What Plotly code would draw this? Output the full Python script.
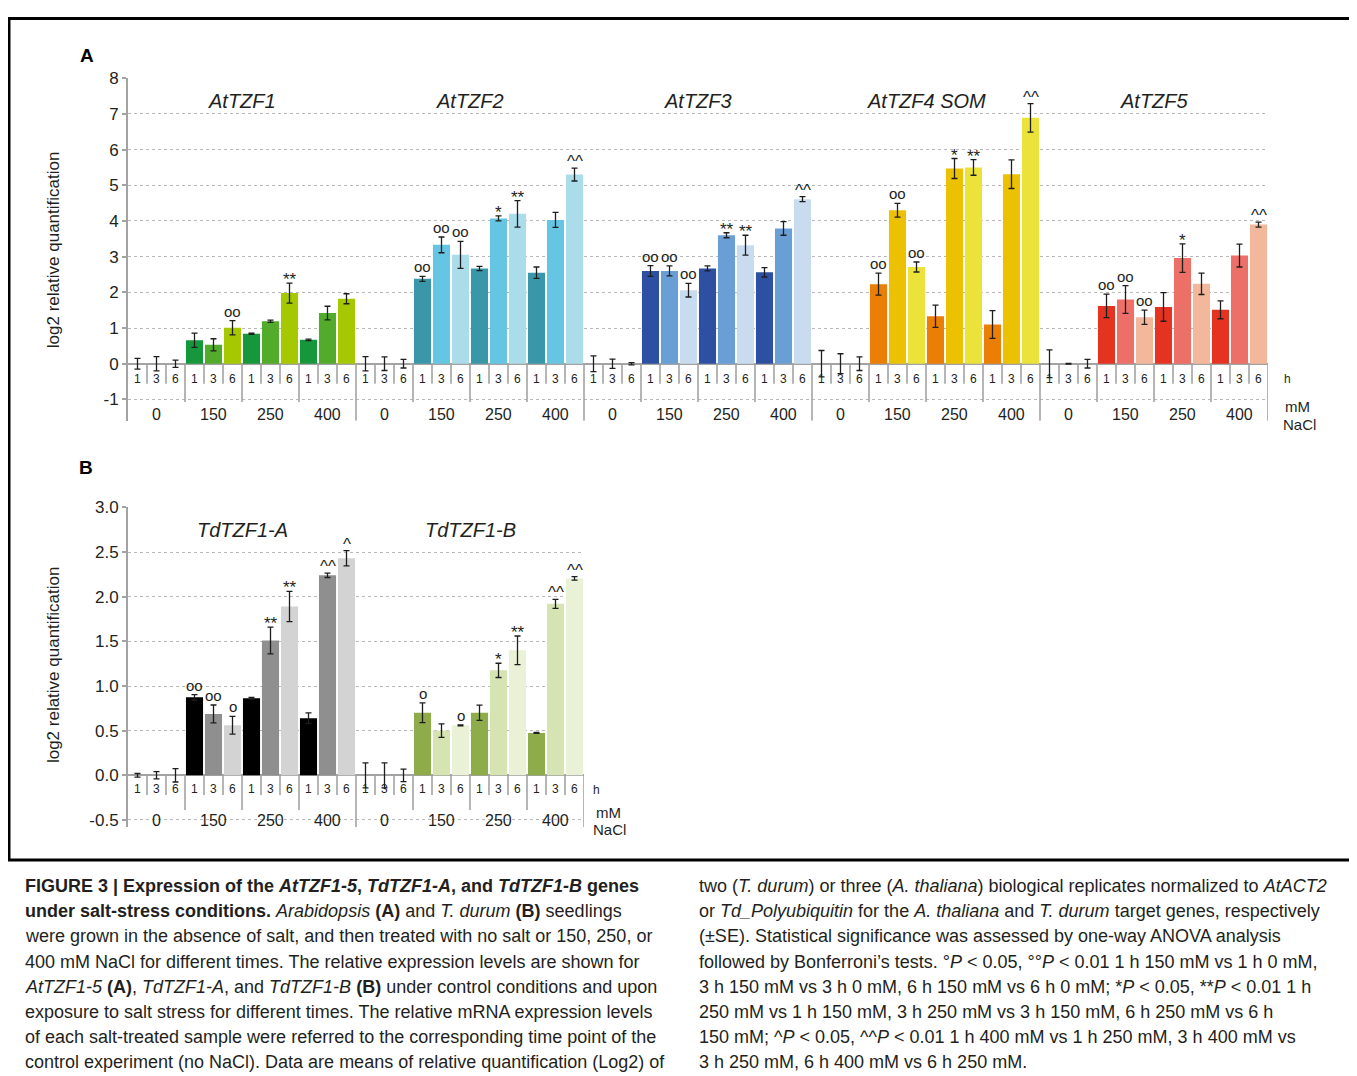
import plotly.graph_objects as go

W, H = 1357, 1076
# screen placement of the figure inside the page (measured): x_screen = x + 8,
# y_screen = 16.8 + 0.989 * y  -> invert so that targets land where wanted
X_OFF = 8.0
Y_OFF, Y_SCALE = 16.8, 0.989


def px(x):
    return (x - X_OFF) / W


def py(y):
    d = (y - Y_OFF) / Y_SCALE
    return 1 - d / H


# ---------------- data ----------------
times = ["1", "3", "6"]
concs = ["0", "150", "250", "400"]

genes_A = ["AtTZF1", "AtTZF2", "AtTZF3", "AtTZF4 SOM", "AtTZF5"]
genes_B = ["TdTZF1-A", "TdTZF1-B"]

# values ordered: 0 mM (1,3,6 h), 150 mM (1,3,6 h), 250 mM (...), 400 mM (...)
AtTZF1_val = [0, 0, 0, 0.66, 0.53, 1.01, 0.84, 1.19, 1.98, 0.67, 1.42, 1.82]
AtTZF1_err = [0.15, 0.2, 0.1, 0.2, 0.17, 0.2, 0.02, 0.03, 0.28, 0.02, 0.19, 0.14]
AtTZF1_sig = ["", "", "", "", "", "oo", "", "", "**", "", "", ""]

AtTZF2_val = [0, 0, 0, 2.38, 3.33, 3.05, 2.67, 4.07, 4.2, 2.55, 4.03, 5.3]
AtTZF2_err = [0.2, 0.19, 0.12, 0.07, 0.22, 0.38, 0.06, 0.07, 0.37, 0.16, 0.21, 0.18]
AtTZF2_sig = ["", "", "", "oo", "oo", "oo", "", "*", "**", "", "", "^^"]

AtTZF3_val = [0, 0, 0, 2.6, 2.6, 2.06, 2.67, 3.6, 3.32, 2.56, 3.79, 4.61]
AtTZF3_err = [0.22, 0.13, 0.03, 0.15, 0.14, 0.19, 0.07, 0.07, 0.28, 0.13, 0.19, 0.07]
AtTZF3_sig = ["", "", "", "oo", "oo", "oo", "", "**", "**", "", "", "^^"]

AtTZF4_val = [0, 0, 0, 2.23, 4.3, 2.71, 1.33, 5.47, 5.5, 1.1, 5.31, 6.89]
AtTZF4_err = [0.37, 0.28, 0.19, 0.31, 0.19, 0.14, 0.31, 0.28, 0.22, 0.39, 0.4, 0.4]
AtTZF4_sig = ["", "", "", "oo", "oo", "oo", "", "*", "**", "", "", "^^"]

AtTZF5_val = [0, 0, 0, 1.62, 1.8, 1.3, 1.59, 2.96, 2.24, 1.51, 3.03, 3.9]
AtTZF5_err = [0.39, 0.01, 0.12, 0.33, 0.39, 0.2, 0.4, 0.4, 0.3, 0.25, 0.32, 0.07]
AtTZF5_sig = ["", "", "", "oo", "oo", "oo", "", "*", "", "", "", "^^"]

TdTZF1A_val = [0, 0, 0, 0.873, 0.687, 0.56, 0.862, 1.51, 1.89, 0.64, 2.24, 2.43]
TdTZF1A_err = [0.02, 0.04, 0.075, 0.03, 0.1, 0.1, 0.01, 0.15, 0.17, 0.06, 0.025, 0.085]
TdTZF1A_sig = ["", "", "", "oo", "oo", "o", "", "**", "**", "", "^^", "^"]

TdTZF1B_val = [0, 0, 0, 0.70, 0.50, 0.56, 0.70, 1.175, 1.40, 0.474, 1.92, 2.205]
TdTZF1B_err = [0.14, 0.14, 0.07, 0.11, 0.075, 0.005, 0.085, 0.08, 0.16, 0.005, 0.05, 0.02]
TdTZF1B_sig = ["", "", "", "o", "", "o", "", "*", "**", "", "^^", "^^"]

colors_A = [
    ["#17973b", "#52ab2b", "#a6c800"],
    ["#3a97aa", "#66c5e3", "#abdcea"],
    ["#2e50a3", "#6a9fd6", "#c8dbef"],
    ["#eb7e04", "#ecc102", "#ebe33a"],
    ["#e43321", "#ec6f68", "#f3b89c"],
]
colors_B = [
    ["#000000", "#8f8f8f", "#d3d3d3"],
    ["#8ead4a", "#d5e4b2", "#e9f1d6"],
]

panel_A = [
    (AtTZF1_val, AtTZF1_err, AtTZF1_sig),
    (AtTZF2_val, AtTZF2_err, AtTZF2_sig),
    (AtTZF3_val, AtTZF3_err, AtTZF3_sig),
    (AtTZF4_val, AtTZF4_err, AtTZF4_sig),
    (AtTZF5_val, AtTZF5_err, AtTZF5_sig),
]
panel_B = [
    (TdTZF1A_val, TdTZF1A_err, TdTZF1A_sig),
    (TdTZF1B_val, TdTZF1B_err, TdTZF1B_sig),
]

caption_left = [
    "<b>FIGURE 3 | Expression of the <i>AtTZF1-5</i>, <i>TdTZF1-A</i>, and <i>TdTZF1-B</i> genes</b>",
    "<b>under salt-stress conditions.</b> <i>Arabidopsis</i> <b>(A)</b> and <i>T. durum</i> <b>(B)</b> seedlings",
    "were grown in the absence of salt, and then treated with no salt or 150, 250, or",
    "400 mM NaCl for different times. The relative expression levels are shown for",
    "<i>AtTZF1-5</i> <b>(A)</b>, <i>TdTZF1-A</i>, and <i>TdTZF1-B</i> <b>(B)</b> under control conditions and upon",
    "exposure to salt stress for different times. The relative mRNA expression levels",
    "of each salt-treated sample were referred to the corresponding time point of the",
    "control experiment (no NaCl). Data are means of relative quantification (Log2) of",
]
caption_right = [
    "two (<i>T. durum</i>) or three (<i>A. thaliana</i>) biological replicates normalized to <i>AtACT2</i>",
    "or <i>Td_Polyubiquitin</i> for the <i>A. thaliana</i> and <i>T. durum</i> target genes, respectively",
    "(±SE). Statistical significance was assessed by one-way ANOVA analysis",
    "followed by Bonferroni’s tests. °<i>P</i> &lt; 0.05, °°<i>P</i> &lt; 0.01 1 h 150 mM vs 1 h 0 mM,",
    "3 h 150 mM vs 3 h 0 mM, 6 h 150 mM vs 6 h 0 mM; *<i>P</i> &lt; 0.05, **<i>P</i> &lt; 0.01 1 h",
    "250 mM vs 1 h 150 mM, 3 h 250 mM vs 3 h 150 mM, 6 h 250 mM vs 6 h",
    "150 mM; ^<i>P</i> &lt; 0.05, ^^<i>P</i> &lt; 0.01 1 h 400 mM vs 1 h 250 mM, 3 h 400 mM vs",
    "3 h 250 mM, 6 h 400 mM vs 6 h 250 mM.",
]

# ---------------- figure ----------------
FONT = "Liberation Sans, Arial, sans-serif"
AX = "#a3a3a3"
TXT = "#231f20"

fig = go.Figure()
annotations = []
shapes = []

SIG_STYLE = {"o": (15, -1), "*": (17, -8), "^": (17, -5)}


def build_panel(panel, genes, colors, xa, ya, lab_y_time, lab_y_conc, title_y, seps):
    nper = len(concs) * len(times)
    for g, (vals, errs, sigs) in enumerate(panel):
        xs = [g * nper + i for i in range(len(vals))]
        cols = [colors[g][i % len(times)] for i in range(len(vals))]
        fig.add_trace(go.Bar(
            x=xs, y=vals, marker=dict(color=cols, line=dict(width=0)),
            error_y=dict(type="data", array=errs, visible=True, color="#1e1e1e",
                         thickness=1.3, width=3),
            xaxis=xa, yaxis=ya, showlegend=False, name=genes[g]))
        for i, s in enumerate(sigs):
            if s:
                size, shift = SIG_STYLE[s[0]]
                annotations.append(dict(
                    x=xs[i], y=vals[i] + errs[i], xref=xa, yref=ya, text=s,
                    showarrow=False, xanchor="center", yanchor="bottom", yshift=shift,
                    font=dict(size=size, color=TXT, family=FONT)))
        # time labels
        for i in range(len(vals)):
            annotations.append(dict(
                x=xs[i], y=lab_y_time, xref=xa, yref=ya, text=times[i % len(times)],
                showarrow=False, xanchor="center", yanchor="middle",
                font=dict(size=12, color=TXT, family=FONT)))
        # concentration labels
        for c, cn in enumerate(concs):
            annotations.append(dict(
                x=g * nper + c * len(times) + 1, y=lab_y_conc, xref=xa, yref=ya, text=cn,
                showarrow=False, xanchor="center", yanchor="middle",
                font=dict(size=16, color=TXT, family=FONT)))
        # gene title
        annotations.append(dict(
            x=g * nper + (nper - 1) / 2, y=title_y, xref=xa, yref=ya,
            text="<i>%s</i>" % genes[g], showarrow=False, xanchor="center", yanchor="middle",
            font=dict(size=20, color=TXT, family=FONT)))
    n = len(panel) * nper
    short_y, conc_y, gene_y = seps
    for k in range(1, n + 1):
        xb = k - 0.5
        if k % nper == 0:
            y1 = gene_y
        elif k % len(times) == 0:
            y1 = conc_y
        else:
            y1 = short_y
        shapes.append(dict(type="line", xref=xa, yref=ya, x0=xb, x1=xb, y0=0, y1=y1,
                           line=dict(color=AX, width=1.6)))
    return n


nA = build_panel(panel_A, genes_A, colors_A, "x", "y", -0.44, -1.42, 7.35, (-0.56, -1.07, -1.6))
nB = build_panel(panel_B, genes_B, colors_B, "x2", "y2", -0.157, -0.51, 2.75, (-0.22, -0.39, -0.58))

slot = 19
x_left = 128

yA_ticks = list(range(-1, 9))
yB_ticks = [-0.5, 0, 0.5, 1.0, 1.5, 2.0, 2.5, 3.0]

common_y = dict(showline=True, linecolor=AX, linewidth=2, ticks="outside", ticklen=4,
                tickcolor=AX, tickwidth=1.5, showgrid=True, gridcolor="#b8b8b8",
                griddash="dot", gridwidth=1, zeroline=True, zerolinecolor=AX,
                zerolinewidth=2, tickfont=dict(size=17, color=TXT, family=FONT))
common_x = dict(showgrid=False, zeroline=False, showticklabels=False, showline=False,
                ticks="")

fig.update_layout(
    width=W, height=H, margin=dict(l=0, r=0, t=0, b=0),
    paper_bgcolor="white", plot_bgcolor="white", barmode="overlay", bargap=0.1,
    xaxis=dict(domain=[px(x_left), px(x_left + nA * slot)], range=[-0.5, nA - 0.5],
               anchor="y", **common_x),
    yaxis=dict(domain=[py(420.7), py(78)], range=[-1.6, 8], anchor="x",
               tickvals=yA_ticks, ticktext=[str(v) for v in yA_ticks], **common_y),
    xaxis2=dict(domain=[px(x_left), px(x_left + nB * slot)], range=[-0.5, nB - 0.5],
                anchor="y2", **common_x),
    yaxis2=dict(domain=[py(827), py(507.3)], range=[-0.58, 3.0], anchor="x2",
                tickvals=yB_ticks, ticktext=["%.1f" % v for v in yB_ticks], **common_y),
    font=dict(family=FONT, color=TXT),
)


def paper_text(x, y, text, size, xanchor="center", angle=0, color=TXT):
    return dict(x=px(x), y=py(y), xref="paper", yref="paper", text=text, showarrow=False,
                xanchor=xanchor, yanchor="middle", textangle=angle,
                font=dict(size=size, color=color, family=FONT))


annotations += [
    paper_text(87, 55, "<b>A</b>", 19, color="black"),
    paper_text(86, 467, "<b>B</b>", 19, color="black"),
    paper_text(53, 250, "log2 relative quantification", 17, angle=-90),
    paper_text(53, 665, "log2 relative quantification", 17, angle=-90),
    paper_text(1282, 379, "h", 12, xanchor="left"),
    paper_text(1283, 406, "mM", 15, xanchor="left"),
    paper_text(1281, 424, "NaCl", 15, xanchor="left"),
    paper_text(591, 790, "h", 12, xanchor="left"),
    paper_text(594, 812, "mM", 15, xanchor="left"),
    paper_text(591, 829, "NaCl", 15, xanchor="left"),
]

for i, line in enumerate(caption_left):
    annotations.append(paper_text(23, 886 + 25.2 * i, line, 18, xanchor="left"))
for i, line in enumerate(caption_right):
    annotations.append(paper_text(697, 886 + 25.2 * i, line, 18, xanchor="left"))

# frame around the chart panels (top edge as high as the figure allows)
shapes.append(dict(type="rect", xref="paper", yref="paper", x0=px(9), x1=px(1354),
                   y0=py(860), y1=1 - 1.5 / H, line=dict(color="black", width=3)))

fig.update_layout(annotations=annotations, shapes=shapes)
fig.write_html("out.html")
